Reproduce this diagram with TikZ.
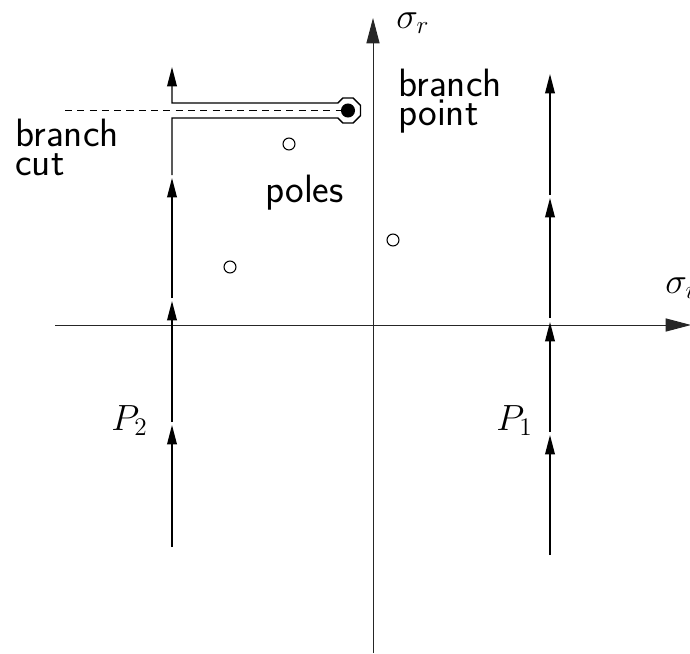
\documentclass[tikz,border=0pt]{standalone}
\usepackage{amsmath}
\usetikzlibrary{arrows.meta}
\tikzset{
  axis/.style={
    line width=0.55pt,
    draw=black!85,
    -{Triangle[length=14.5pt,width=7.5pt]}
  },
  contour/.style={
    line width=0.8pt,
    draw=black,
    -{Triangle[length=11pt,width=5.5pt]}
  },
  cutline/.style={line width=0.95pt, dash pattern=on 4pt off 3pt},
  pole/.style={circle, draw, line width=0.6pt, minimum size=6.8pt, inner sep=0pt},
  branchpt/.style={circle, fill=black, minimum size=8pt, inner sep=0pt},
  txt/.style={font=\sffamily\fontsize{22.5}{16.3}\selectfont, align=left, inner sep=0pt},
  mathtxt/.style={font=\fontsize{20.5}{24}\selectfont, inner sep=0pt}
}

\begin{document}
\begin{tikzpicture}[x=0.02cm, y=-0.02cm]
\useasboundingbox (0,0) rectangle (690,653);

% axes
\coordinate (xstart) at (55,325);
\coordinate (xend) at (691,325);
\coordinate (ystart) at (373,653);
\coordinate (yend) at (373,18);
\draw[axis] (xstart) -- (xend);
\draw[axis] (ystart) -- (yend);
\node[mathtxt, anchor=base west] (sigr) at (396,28) {$\sigma_r$};
\node[mathtxt, anchor=base west] (sigi) at (665,293) {$\sigma_i$};

% contour P1
\foreach \ya/\yb in {555/435, 432/322, 318/198, 195/74}
  \draw[contour] (550,\ya) -- (550,\yb);
\node[mathtxt, anchor=base west] (p1lbl) at (496,430) {$P_1$};

% contour P2 with the keyhole round the cut
\foreach \ya/\yb in {547/425, 422/301, 298/178}
  \draw[contour] (172,\ya) -- (172,\yb);
\draw[contour] (172,175) -- (172,118) -- (337.8,118) -- (342.8,123) -- (353.2,123)
  -- (360.5,115.7) -- (360.5,105.3) -- (353.2,98) -- (342.8,98) -- (337.8,103)
  -- (172,103) -- (172,67);
\node[mathtxt, anchor=base west] (p2lbl) at (111,430) {$P_2$};

% branch point and cut
\node[branchpt] (bp) at (348,110.5) {};
\coordinate (cutend) at (65,110.5);
\draw[cutline] (cutend) -- (bp);
\node[txt, anchor=north west] (cutlbl) at (15,119) {branch\\cut};
\node[txt, anchor=north west] (bplbl) at (398,69) {branch\\point};

% poles
\node[pole] (pole1) at (289,144) {};
\node[pole] (pole2) at (230,267) {};
\node[pole] (pole3) at (393,240) {};
\node[txt, anchor=base west] (polelbl) at (265,202) {poles};
\end{tikzpicture}
\end{document}
